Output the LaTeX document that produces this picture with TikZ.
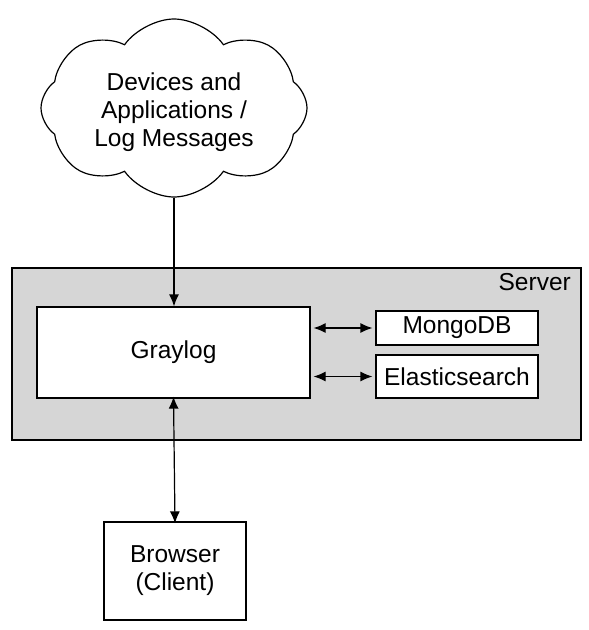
\documentclass[tikz,border=0pt]{standalone}
\usepackage{fontspec}
\setmainfont{Liberation Sans}
\usetikzlibrary{arrows.meta,shapes.symbols}
\begin{document}
\begin{tikzpicture}[x=1pt,y=-1pt,
  txt/.style={font=\fontsize{24.5}{28}\selectfont},
  box/.style={draw=black,line width=1.2pt,fill=white,inner sep=0pt,txt,align=center},
  tip/.tip={Latex[length=12pt,width=10pt]},
  conn/.style={line width=1.2pt,tip-tip},
  oneway/.style={line width=1.2pt,-tip}]
\useasboundingbox (0,0) rectangle (589,630);
\node[draw=black,line width=1.2pt,fill=white,cloud,cloud puffs=8,cloud puff arc=110,aspect=1.5,
  minimum width=266pt,minimum height=178pt,inner sep=0pt] (cloud) at (174,108) {};
\node[txt,align=center,inner sep=0pt] (cloudtext) at (174,112) {Devices and\\Applications /\\Log Messages};
\node[draw=black,line width=1.2pt,fill=black!16,minimum width=569pt,minimum height=172pt,inner sep=0pt] (server) at (296.5,354) {};
\node[anchor=north east,txt,inner sep=0pt] (srvlabel) at (571,273) {Server};
\node[box,minimum width=273pt,minimum height=91pt] (graylog) at (173.5,352.5) {Graylog};
\node[box,minimum width=162pt,minimum height=34pt] (mongo) at (457,328) {MongoDB};
\node[box,minimum width=162pt,minimum height=43pt] (elastic) at (457,376.5) {Elasticsearch};
\node[box,minimum width=142pt,minimum height=98pt] (browser) at (175,571) {Browser\\(Client)};
\draw[oneway] (cloud.south) -- (graylog.north -| cloud.south);
\draw[conn] ([xshift=3pt]graylog.east |- mongo.west) -- ([xshift=-3pt]mongo.west);
\draw[conn] ([xshift=3pt]graylog.east |- elastic.west) -- ([xshift=-3pt]elastic.west);
\draw[conn] ([yshift=2pt]graylog.south) -- ([yshift=-2pt]browser.north);
\end{tikzpicture}
\end{document}
